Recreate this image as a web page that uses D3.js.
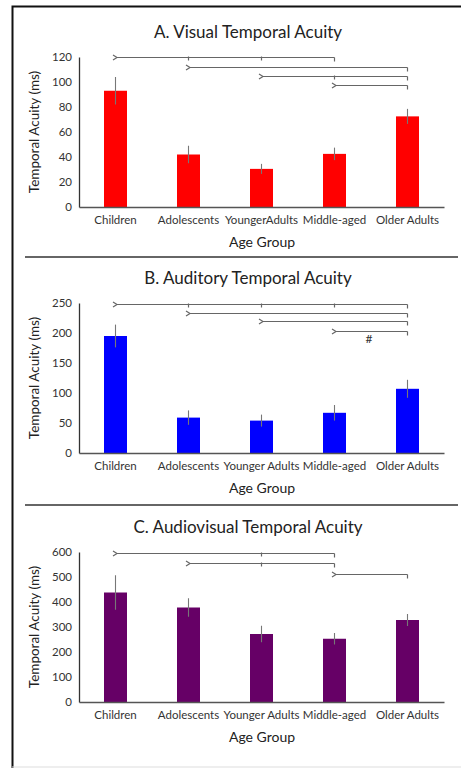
<!DOCTYPE html>
<html>
<head>
<meta charset="utf-8">
<script src="https://cdn.jsdelivr.net/npm/d3@7"></script>
<style>
  html, body { margin: 0; padding: 0; background: #fff; }
  svg { display: block; font-family: Lato, "Open Sans", sans-serif; }
</style>
</head>
<body>
<svg id="chart" width="461" height="768"></svg>
<script>
// ---------- data ----------
const categoriesA = ["Children", "Adolescents", "YoungerAdults", "Middle-aged", "Older Adults"];
const categoriesBC = ["Children", "Adolescents", "Younger Adults", "Middle-aged", "Older Adults"];

const visualMeans = [93, 42, 30.5, 42.5, 72.5];
const visualErrors = [11, 7, 4, 5, 6];
const visualTicks = [0, 20, 40, 60, 80, 100, 120];

const auditoryMeans = [195, 59, 54, 67, 107];
const auditoryErrors = [19, 12, 10, 13, 15];
const auditoryTicks = [0, 50, 100, 150, 200, 250];

const audiovisualMeans = [438, 378, 272, 253, 328];
const audiovisualErrors = [69, 37, 33, 23, 24];
const audiovisualTicks = [0, 100, 200, 300, 400, 500, 600];

// significance brackets: from group, to group, groups marked with a tick, level (ms)
const visualBrackets = [
  { from: 0, to: 3, ticks: [1, 2, 3], level: 120 },
  { from: 1, to: 4, ticks: [4], level: 112 },
  { from: 2, to: 4, ticks: [3, 4], level: 104.8 },
  { from: 3, to: 4, ticks: [4], level: 97.6 }
];
const auditoryBrackets = [
  { from: 0, to: 4, ticks: [1, 2, 3, 4], level: 248 },
  { from: 1, to: 4, ticks: [4], level: 234 },
  { from: 2, to: 4, ticks: [4], level: 220 },
  { from: 3, to: 4, ticks: [4], level: 204 }
];
const audiovisualBrackets = [
  { from: 0, to: 3, ticks: [2, 3], level: 596 },
  { from: 1, to: 3, ticks: [2, 3], level: 557 },
  { from: 3, to: 4, ticks: [4], level: 513 }
];

const panels = [
  { title: "A. Visual Temporal Acuity", cats: categoriesA, means: visualMeans, errs: visualErrors,
    ticks: visualTicks, brackets: visualBrackets, color: "#ff0000", top: 0, hash: null },
  { title: "B. Auditory Temporal Acuity", cats: categoriesBC, means: auditoryMeans, errs: auditoryErrors,
    ticks: auditoryTicks, brackets: auditoryBrackets, color: "#0000ff", top: 246, hash: { between: [3, 4], level: 183 } },
  { title: "C. Audiovisual Temporal Acuity", cats: categoriesBC, means: audiovisualMeans, errs: audiovisualErrors,
    ticks: audiovisualTicks, brackets: audiovisualBrackets, color: "#660066", top: 495, hash: null }
];

// ---------- drawing ----------
const svg = d3.select("#chart");
svg.append("rect").attr("width", 461).attr("height", 768).attr("fill", "#fff");

// outer frame (left + top visible)
svg.append("path").attr("d", "M12.5,768 V6.5 H461").attr("fill", "none").attr("stroke", "#111").attr("stroke-width", 2);
svg.append("line").attr("x1", 12).attr("x2", 461).attr("y1", 767).attr("y2", 767)
  .attr("stroke", "#ddd").attr("stroke-width", 1);

// separators
[257, 505].forEach(y => {
  svg.append("line").attr("x1", 25).attr("x2", 458).attr("y1", y).attr("y2", y)
    .attr("stroke", "#333").attr("stroke-width", 1.5);
});

const plotLeft = 79, plotRight = 444;

panels.forEach(p => {
  const g = svg.append("g").attr("transform", `translate(0,${p.top})`);
  const y0 = 207, y1 = 57;
  const x = d3.scaleBand().domain(d3.range(p.cats.length)).range([plotLeft, plotRight]).padding(0);
  const y = d3.scaleLinear().domain([0, d3.max(p.ticks)]).range([y0, y1]);
  const barW = x.bandwidth() * 0.315;
  const cx = i => x(i) + x.bandwidth() / 2;

  // title
  g.append("text").attr("x", 248).attr("y", 38).attr("text-anchor", "middle")
    .attr("font-size", 17).attr("fill", "#222").text(p.title);

  // y axis
  const yAxis = d3.axisLeft(y).tickValues(p.ticks).tickSize(0).tickPadding(7);
  const ya = g.append("g").attr("transform", `translate(${plotLeft},0)`).call(yAxis);
  ya.select(".domain").attr("stroke", "#333").attr("stroke-width", 1.3);
  ya.selectAll("text").attr("font-size", 11.5).attr("fill", "#333").attr("font-family", "Lato, sans-serif");

  // bars
  g.selectAll("rect.bar").data(p.means).enter().append("rect").attr("class", "bar")
    .attr("x", (d, i) => cx(i) - barW / 2).attr("width", barW)
    .attr("y", d => y(d)).attr("height", d => y(0) - y(d))
    .attr("fill", p.color);

  // error bars
  g.selectAll("line.err").data(p.means).enter().append("line").attr("class", "err")
    .attr("x1", (d, i) => cx(i)).attr("x2", (d, i) => cx(i))
    .attr("y1", (d, i) => y(d + p.errs[i])).attr("y2", (d, i) => y(d - p.errs[i]))
    .attr("stroke", "#777").attr("stroke-width", 1.1);

  // x axis
  const xAxis = d3.axisBottom(x).tickSize(0).tickPadding(9).tickFormat(i => p.cats[i]);
  const xa = g.append("g").attr("transform", `translate(0,${y0})`).call(xAxis);
  xa.select(".domain").attr("stroke", "#555").attr("stroke-width", 1.3);
  xa.selectAll("text").attr("font-size", 11.5).attr("fill", "#333").attr("font-family", "Lato, sans-serif");

  // axis titles
  g.append("text").attr("x", 262).attr("y", 247).attr("text-anchor", "middle")
    .attr("font-size", 14).attr("fill", "#222").text("Age Group");
  g.append("text").attr("transform", `translate(39,${(y0 + y1) / 2}) rotate(-90)`)
    .attr("text-anchor", "middle").attr("font-size", 13.5).attr("fill", "#222")
    .text("Temporal Acuity (ms)");

  // significance brackets
  const bg = g.append("g").attr("stroke", "#666").attr("fill", "none").attr("stroke-width", 1.2);
  p.brackets.forEach(b => {
    const yy = Math.round(y(b.level)) + 0.5;
    const xs = cx(b.from) + 1.5, xe = cx(b.to);
    bg.append("path").attr("d", `M${xs - 4},${yy - 2.5} L${xs},${yy} L${xs - 4},${yy + 2.5}`);
    bg.append("line").attr("x1", xs).attr("x2", xe).attr("y1", yy).attr("y2", yy);
    b.ticks.forEach(t => {
      const tx = cx(t);
      const isEnd = t === b.to;
      bg.append("line").attr("x1", tx).attr("x2", tx)
        .attr("y1", isEnd ? yy : yy - 1).attr("y2", yy + (isEnd ? 4 : 3));
    });
  });

  if (p.hash) {
    const hx = (cx(p.hash.between[0]) + cx(p.hash.between[1])) / 2 - 2;
    g.append("text").attr("x", hx).attr("y", y(p.hash.level)).attr("text-anchor", "middle")
      .attr("font-size", 12).attr("fill", "#333").text("#");
  }
});
</script>
</body>
</html>
